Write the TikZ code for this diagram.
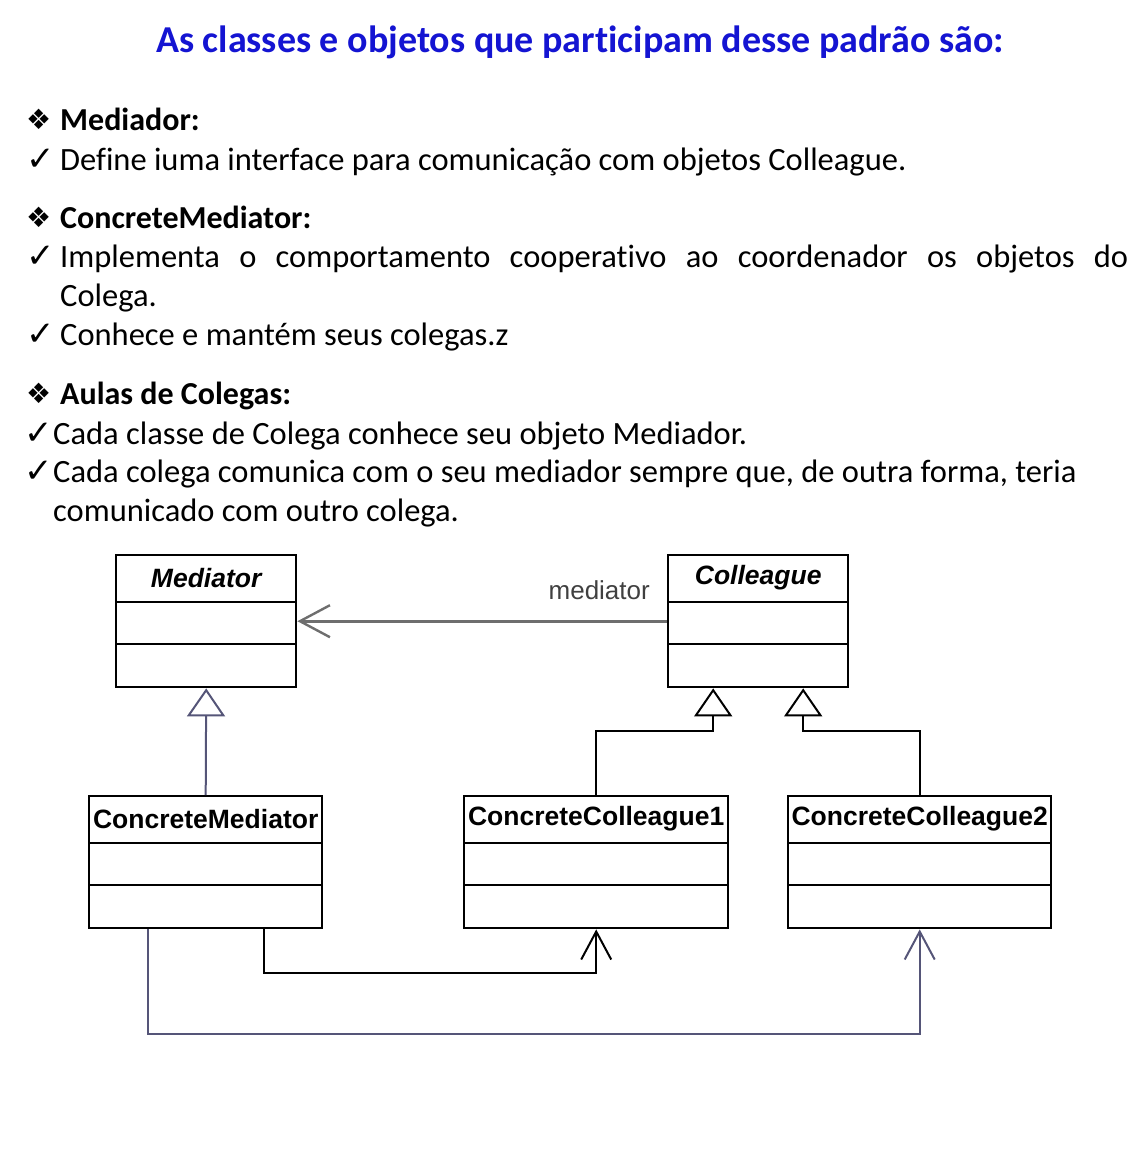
\documentclass[tikz,border=0pt]{standalone}
\usepackage{fontspec}
\setmainfont{Carlito}[Ligatures=NoCommon]
\newfontfamily\umlfont{Liberation Sans}
\newfontfamily\symfont{DejaVu Sans}
\usetikzlibrary{arrows.meta,positioning}

\definecolor{titleblue}{RGB}{20,20,210}
\definecolor{assocgray}{RGB}{110,110,110}
\definecolor{linkblue}{RGB}{85,85,120}

\tikzset{
  txt/.style={anchor=base west, inner sep=0pt, font=\fontsize{32.5}{38}\selectfont},
  head/.style={txt, font=\fontsize{32}{38}\selectfont\bfseries},
  diamondsym/.style={anchor=base west, inner sep=0pt, font=\symfont\fontsize{28}{30}\selectfont},
  checksym/.style={anchor=base west, inner sep=0pt, font=\symfont\fontsize{34}{38}\selectfont},
  classbox/.style={draw, line width=2.4pt, anchor=north west, inner sep=0pt, minimum height=132pt},
  classname/.style={inner sep=0pt, font=\umlfont\fontsize{26.5}{30}\selectfont\bfseries},
  gen/.style={line width=2pt, -{Triangle[open, length=28pt, width=38pt, line width=2pt]}},
  nav/.style={line width=2pt, -{Straight Barb[length=28pt, width=30pt, line width=2pt]}}
}

% class box with two empty compartments
\newcommand{\umlclass}[5]{%
  \node[classbox, minimum width=#4pt] (#1) at (#2,#3) {};
  \node[classname] (#1name) at ([yshift=-24pt]#1.north) {#5};
  \draw[line width=2.4pt] ([yshift=-48pt]#1.north west) -- ([yshift=-48pt]#1.north east);
  \draw[line width=2.4pt] ([yshift=-90pt]#1.north west) -- ([yshift=-90pt]#1.north east);
}

\begin{document}
\begin{tikzpicture}[x=1pt, y=-1pt]
  \useasboundingbox (0,0) rectangle (1140,1153);

  \node[anchor=base, inner sep=0pt, text=titleblue, font=\fontsize{38}{44}\selectfont\bfseries] (title) at (580,53) {As classes e objetos que participam desse padrão são:};

  % Mediador
  \node[diamondsym] (m1) at (26,130) {❖};
  \node[head] (h1) at (60,131) {Mediador:};
  \node[checksym] (c1) at (26,170) {✓};
  \node[txt] (t1) at (60,170) {Define iuma interface para comunicação com objetos Colleague.};

  % ConcreteMediator
  \node[diamondsym] (m2) at (26,227) {❖};
  \node[head] (h2) at (60,228) {ConcreteMediator:};
  \node[checksym] (c2) at (26,267) {✓};
  \node[txt] (t2) at (60,267) {\makebox[1068pt][s]{Implementa o comportamento cooperativo ao coordenador os objetos do}};
  \node[txt] (t3) at (60,306) {Colega.};
  \node[checksym] (c3) at (26,345) {✓};
  \node[txt] (t4) at (60,345) {Conhece e mantém seus colegas.z};

  % Aulas de Colegas
  \node[diamondsym] (m3) at (26,403) {❖};
  \node[head] (h3) at (60,404) {Aulas de Colegas:};
  \node[checksym] (c4) at (24,444) {✓};
  \node[txt] (t5) at (53,444) {Cada classe de Colega conhece seu objeto Mediador.};
  \node[checksym] (c5) at (24,482) {✓};
  \node[txt] (t6) at (53,482) {Cada colega comunica com o seu mediador sempre que, de outra forma, teria};
  \node[txt] (t7) at (53,521) {comunicado com outro colega.};

  % diagram
  \umlclass{med}{115}{554}{180}{\itshape Mediator}
  \umlclass{col}{667}{554}{180}{\itshape Colleague}
  \umlclass{cmed}{88}{795}{233}{ConcreteMediator}
  \umlclass{cc1}{463}{795}{264}{ConcreteColleague1}
  \umlclass{cc2}{787}{795}{263}{ConcreteColleague2}

  \draw[line width=3pt, color=assocgray, -{Straight Barb[length=30pt, width=32pt, line width=2.4pt]}] (col.west) -- (med.east);
  \node[anchor=south east, inner sep=0pt, text=black!75, font=\umlfont\fontsize{26}{30}\selectfont] (lbl) at (650,600) {mediator};

  \draw[gen, color=linkblue] (cmed.north) -- (med.south);
  \coordinate (g1) at ([xshift=-45pt]col.south);
  \coordinate (g2) at ([xshift=45pt]col.south);
  \draw[gen] (cc1.north) -- ++(0,-64) -| (g1);
  \draw[gen] (cc2.north) -- ++(0,-64) -| (g2);

  \draw[nav] ([xshift=58pt]cmed.south) -- ++(0,44) -| (cc1.south);
  \draw[nav, color=linkblue] ([xshift=-58pt]cmed.south) -- ++(0,105) -| (cc2.south);
\end{tikzpicture}
\end{document}
